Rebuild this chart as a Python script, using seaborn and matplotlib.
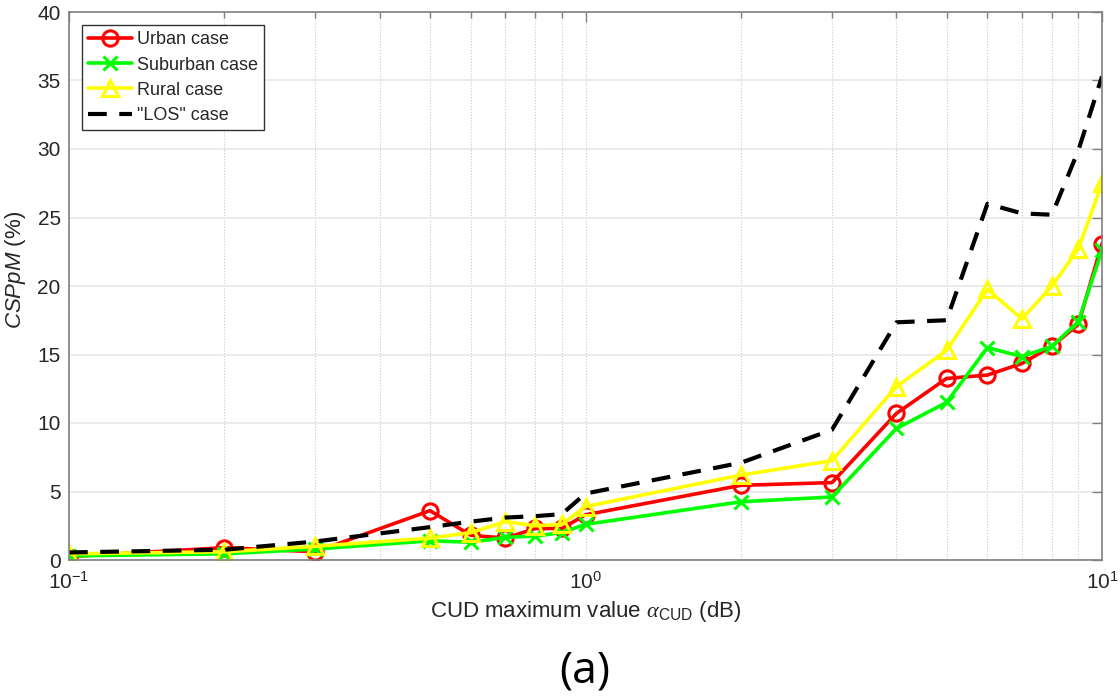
import matplotlib
matplotlib.use("Agg")
import matplotlib.pyplot as plt
import matplotlib.ticker as mticker
import seaborn as sns

alpha_cud = [0.1, 0.2, 0.3, 0.5, 0.6, 0.7, 0.8, 0.9, 1, 2, 3, 4, 5, 6, 7, 8, 9, 10]
urban = [0.25, 0.9, 0.6, 3.6, 1.8, 1.6, 2.3, 2.3, 3.3, 5.45, 5.65, 10.7, 13.25, 13.5, 14.35, 15.6, 17.2, 23.1]
suburban = [0.3, 0.45, 0.8, 1.4, 1.3, 1.65, 1.75, 2.0, 2.6, 4.25, 4.6, 9.6, 11.5, 15.5, 14.85, 15.6, 17.4, 22.6]
rural = [0.45, 0.6, 1.0, 1.6, 2.0, 2.8, 2.5, 2.6, 3.9, 6.2, 7.25, 12.65, 15.3, 19.75, 17.6, 20.0, 22.7, 27.5]
los = [0.55, 0.75, 1.35, 2.4, 2.8, 3.1, 3.2, 3.35, 4.85, 7.1, 9.5, 17.35, 17.5, 26.0, 25.3, 25.2, 29.9, 35.3]

sns.set_style("white")
plt.rcParams["font.family"] = ["Liberation Sans", "DejaVu Sans"]
plt.rcParams["mathtext.fontset"] = "custom"
plt.rcParams["mathtext.rm"] = "Liberation Sans"
plt.rcParams["mathtext.it"] = "Liberation Sans:italic"
plt.rcParams["mathtext.sf"] = "Liberation Sans"
plt.rcParams["mathtext.cal"] = "Liberation Serif:italic"

fig = plt.figure(figsize=(11.2, 7), dpi=100)
ax = fig.add_axes([69 / 1120, 140 / 700, 1033 / 1120, 548 / 700])

sns.lineplot(x=alpha_cud, y=urban, color="#ff0000", marker="o", markersize=11,
             markerfacecolor="none", markeredgecolor="#ff0000", markeredgewidth=2.2,
             linewidth=2.6, label="Urban case", ax=ax)
sns.lineplot(x=alpha_cud, y=suburban, color="#00ff00", marker="x", markersize=10,
             markeredgecolor="#00ff00", markeredgewidth=2.2,
             linewidth=2.6, label="Suburban case", ax=ax)
sns.lineplot(x=alpha_cud, y=rural, color="#ffff00", marker="^", markersize=11,
             markerfacecolor="none", markeredgecolor="#ffff00", markeredgewidth=2.2,
             linewidth=2.6, label="Rural case", ax=ax)
sns.lineplot(x=alpha_cud, y=los, color="black", linestyle=(0, (4.5, 3)),
             linewidth=3, label='"LOS" case', ax=ax)

ax.set_xscale("log")
ax.set_xlim(0.1, 10)
ax.set_ylim(0, 40)
ax.yaxis.set_major_locator(mticker.MultipleLocator(5))
ax.xaxis.set_major_locator(mticker.LogLocator(base=10))
ax.xaxis.set_minor_locator(mticker.LogLocator(base=10, subs=range(2, 10)))
ax.xaxis.set_minor_formatter(mticker.NullFormatter())

ax.grid(True, axis="y", which="major", color="#e8e8e8", linewidth=1.2, linestyle="-")
ax.grid(True, axis="x", which="both", color="#c8c8c8", linewidth=0.8, linestyle=":")
ax.set_axisbelow(True)

for s in ax.spines.values():
    s.set_color("#808080")
    s.set_linewidth(1.2)
ax.tick_params(which="both", direction="in", top=True, right=True,
               colors="#808080", labelcolor="#262626", labelsize=15)
ax.tick_params(which="major", length=7, width=1)
ax.tick_params(which="minor", length=4, width=1)
ax.tick_params(axis="x", pad=8)
ax.tick_params(axis="y", pad=6)

ax.set_xlabel(r"CUD maximum value $\mathcal{\alpha}_{\mathsf{CUD}}$ (dB)", fontsize=16,
              color="#262626", labelpad=4)
ax.set_ylabel(r"$\mathit{CSPpM}$ (%)", fontsize=16, color="#262626")
ax.yaxis.set_label_coords(-0.04, 0.53)

leg = ax.legend(loc="upper left", bbox_to_anchor=(0.0126, 0.976), borderaxespad=0,
                fontsize=13, fancybox=False, framealpha=1, edgecolor="#333333",
                handlelength=2.4, labelspacing=0.45, borderpad=0.35, handletextpad=0.3)
leg.get_frame().set_linewidth(1)

fig.text(585 / 1120, 29 / 700, "(a)", ha="center", va="center", fontsize=32,
         family=["Open Sans", "DejaVu Sans"], color="black")

fig.savefig("out.png", dpi=100)
